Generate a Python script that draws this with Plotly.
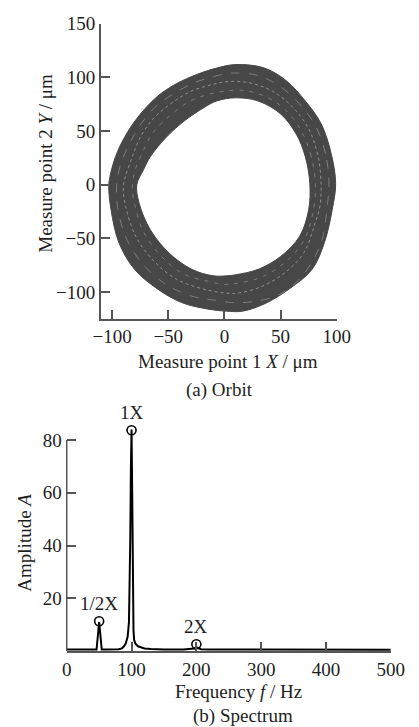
import plotly.graph_objects as go

# ---------- data: orbit (µm) ----------
outer_x = [99, 95, 86, 72, 55, 35, 10, -6, -24, -43, -60, -77, -89, -97, -102, -103, -101, -94, -80, -60, -38, -15, 2, 16, 36, 58, 78, 89, 96, 99]
outer_y = [1, 29, 57, 78, 97, 109, 112, 109, 103, 94, 82, 63, 44, 26, 7, -2, -23, -54, -79, -97, -110, -116, -118, -118, -111, -97, -79, -54, -23, 1]
inner_x = [76, 72, 64, 50, 30, 10, -7, -18, -35, -52, -66, -72, -78, -76, -66, -49, -29, -10, 2, 10, 30, 50, 67, 75, 76]
inner_y = [1, 26, 47, 66, 78, 81, 78, 72, 60, 44, 26, 14, 0, -17, -42, -64, -79, -85, -85, -84, -79, -67, -48, -23, 1]
mid_x = [86, 83, 75, 61, 43, 22, 2, -12, -30, -47, -63, -75, -82, -88, -90, -88, -79, -63, -43, -20, 0, 13, 33, 54, 71, 80, 85, 86]
mid_y = [2, 28, 52, 72, 87, 95, 96, 93, 87, 76, 62, 44, 26, 8, -2, -20, -48, -71, -88, -97, -101, -101, -95, -82, -63, -38, -20, 2]
mid2_x = [93, 90, 81, 67, 49, 29, 6, -9, -27, -45, -62, -76, -86, -93, -96, -95, -87, -72, -52, -29, -7, 8, 26, 48, 66, 78, 87, 91, 93]
mid2_y = [2, 29, 55, 75, 92, 102, 104, 101, 95, 85, 72, 54, 35, 17, -2, -22, -51, -75, -93, -104, -108, -110, -109, -103, -89, -72, -51, -25, 2]
mid3_x = [81, 77, 69, 55, 37, 16, -1, -15, -32, -49, -64, -73, -80, -82, -80, -72, -56, -37, -15, 0, 11, 31, 51, 69, 78, 81]
mid3_y = [1, 27, 49, 69, 82, 88, 87, 84, 77, 64, 48, 30, 12, -2, -18, -44, -67, -83, -90, -93, -92, -87, -75, -55, -30, 1]

# ---------- data: spectrum ----------
freq = [0, 10, 20, 30, 40, 46, 50, 54, 60, 70, 80, 85, 88, 91, 94, 96, 97, 98, 99, 100, 101, 102, 103, 104, 106, 110, 115, 120, 130, 150, 180, 193, 197, 200, 203, 207, 220, 250, 300, 350, 400, 450, 500]
amp = [0.6, 0.6, 0.6, 0.6, 0.6, 0.6, 11, 0.6, 0.6, 0.6, 0.7, 1.0, 1.7, 2.8, 5.5, 11, 22, 42, 70, 84, 60, 25, 8, 4.2, 2.8, 1.8, 1.3, 1.0, 0.8, 0.6, 0.6, 0.7, 1.0, 1.4, 1.0, 0.7, 0.6, 0.6, 0.5, 0.5, 0.5, 0.5, 0.5]
peak_f = [50, 100, 200]
peak_a = [11.3, 83.7, 2.6]
peak_labels = ["1/2X", "1X", "2X"]

FONT = "Liberation Serif"
AX = "#555555"
RING = "#474747"
TXT = "#1e1e1e"
FS = 19

fig = go.Figure()

# orbit ring
fig.add_trace(go.Scatter(x=outer_x, y=outer_y, mode="lines", fill="toself",
                         fillcolor=RING, line=dict(color=RING, width=1, shape="spline"),
                         xaxis="x", yaxis="y", showlegend=False, hoverinfo="skip"))
fig.add_trace(go.Scatter(x=inner_x, y=inner_y, mode="lines", fill="toself",
                         fillcolor="white", line=dict(color=RING, width=1, shape="spline"),
                         xaxis="x", yaxis="y", showlegend=False, hoverinfo="skip"))
for lx, ly, dsh, op in [(mid_x, mid_y, "dot", 0.55), (mid2_x, mid2_y, "dash", 0.4), (mid3_x, mid3_y, "4px,6px", 0.4)]:
    fig.add_trace(go.Scatter(x=lx, y=ly, mode="lines",
                             line=dict(color=f"rgba(205,205,205,{op})", width=1, dash=dsh, shape="spline"),
                             xaxis="x", yaxis="y", showlegend=False, hoverinfo="skip"))

# spectrum
fig.add_trace(go.Scatter(x=freq, y=amp, mode="lines", line=dict(color="black", width=2),
                         xaxis="x2", yaxis="y2", showlegend=False))
fig.add_trace(go.Scatter(x=peak_f, y=peak_a, mode="markers",
                         marker=dict(symbol="circle-open", size=9, color="black", line=dict(width=1.6)),
                         xaxis="x2", yaxis="y2", showlegend=False, cliponaxis=False))

axis_common = dict(linecolor=AX, linewidth=1.5, ticks="inside", ticklen=9,
                   tickcolor=AX, tickwidth=1.5, showgrid=False, zeroline=False,
                   tickfont=dict(family=FONT, size=FS, color=TXT), mirror=False)

fig.update_layout(
    width=419, height=727, margin=dict(l=0, r=0, t=0, b=0),
    paper_bgcolor="white", plot_bgcolor="white",
    xaxis=dict(domain=[98/419, 347/419], range=[-110, 100], tickvals=[-100, -50, 0, 50, 100],
               ticktext=["\u2212100", "\u221250", "0", "50", "100"], anchor="y", showline=True,
               **axis_common),
    yaxis=dict(domain=[1-313/727, 1-14/727], range=[-125, 150], tickvals=[-100, -50, 0, 50, 100, 150],
               ticktext=["\u2212100", "\u221250", "0", "50", "100", "150"], anchor="x", showline=True,
               **axis_common),
    xaxis2=dict(domain=[62/419, 404/419], range=[0, 500], tickvals=[0, 100, 200, 300, 400, 500],
                anchor="y2", showline=True, **axis_common),
    yaxis2=dict(domain=[1-650/727, 1-420/727], range=[0, 86], tickvals=[20, 40, 60, 80],
                anchor="x2", showline=False, ticklabelstandoff=4, **axis_common),
    font=dict(family=FONT, size=FS, color=TXT),
)

# y axis line of the spectrum, ending at the top tick (80)
fig.add_shape(type="line", xref="x2 domain", yref="y2", x0=0, x1=0, y0=0, y1=80,
              line=dict(color=AX, width=1.5))

def ann(text, x, y, angle=0):
    fig.add_annotation(text=text, x=x/419, y=1-y/727, xref="paper", yref="paper",
                       showarrow=False, textangle=angle, xanchor="center", yanchor="middle",
                       font=dict(family=FONT, size=FS, color=TXT))

ann("Measure point 1 <i>X</i> / μm", 232, 356)
ann("(a) Orbit", 223, 385)
ann("Measure point 2 <i>Y</i> / μm", 40, 155, -90)
ann("Frequency <i>f</i> / Hz", 243, 691)
ann("(b) Spectrum", 248, 716)
ann("Amplitude <i>A</i>", 17, 540, -90)

for f, a, t in zip(peak_f, peak_a, peak_labels):
    fig.add_annotation(text=t, x=f, y=a, xref="x2", yref="y2", showarrow=False,
                       yanchor="bottom", yshift=5, font=dict(family=FONT, size=FS, color=TXT))

fig.write_html("out.html")
